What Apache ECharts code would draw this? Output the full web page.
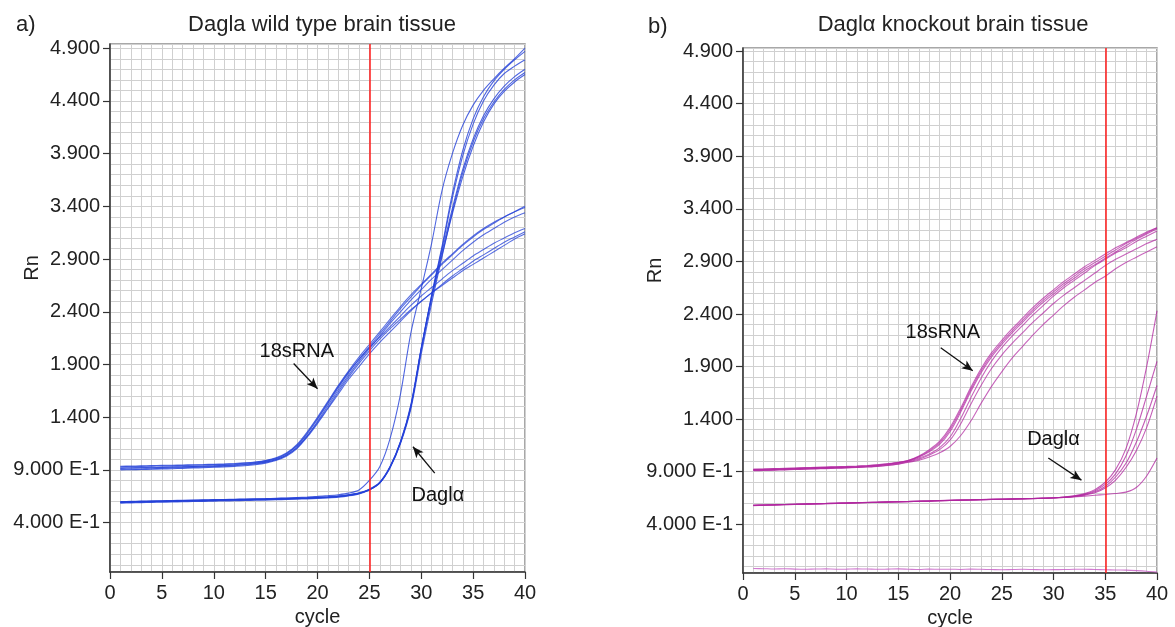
<!DOCTYPE html>
<html>
<head>
  <meta charset="UTF-8">
  <title>Dagla qPCR amplification plots</title>
  <script src="https://cdn.jsdelivr.net/npm/echarts@6/dist/echarts.min.js"></script>
  <style>
    html, body { margin: 0; padding: 0; background: #fff; }
    #main { width: 1175px; height: 627px; }
  </style>
</head>
<body>
<div id="main"></div>
<script>
// ---- data ----
var cycles = [1,2,3,4,5,6,7,8,9,10,11,12,13,14,15,16,17,18,19,20,21,22,23,24,25,26,27,28,29,30,31,32,33,34,35,36,37,38,39,40];

var xTickValues = [0, 5, 10, 15, 20, 25, 30, 35, 40];
var yTickValues = [0.4, 0.9, 1.4, 1.9, 2.4, 2.9, 3.4, 3.9, 4.4, 4.9];
var yTickLabels = ['4.000 E-1', '9.000 E-1', '1.400', '1.900', '2.400', '2.900', '3.400', '3.900', '4.400', '4.900'];

// a) wild type, 18sRNA replicates
var wt18sA = [0.935,0.937,0.939,0.941,0.943,0.945,0.947,0.949,0.951,0.954,0.957,0.961,0.967,0.976,0.990,1.015,1.060,1.140,1.260,1.400,1.550,1.700,1.840,1.970,2.090,2.210,2.330,2.450,2.560,2.660,2.760,2.860,2.950,3.040,3.120,3.190,3.250,3.300,3.350,3.390];
var wt18sB = [0.920,0.921,0.923,0.925,0.927,0.929,0.931,0.934,0.937,0.940,0.944,0.949,0.956,0.966,0.981,1.006,1.050,1.125,1.240,1.380,1.530,1.680,1.820,1.950,2.070,2.190,2.310,2.430,2.540,2.650,2.750,2.850,2.940,3.030,3.110,3.180,3.240,3.300,3.350,3.400];
var wt18sC = [0.905,0.907,0.909,0.912,0.915,0.918,0.921,0.924,0.927,0.931,0.935,0.940,0.947,0.957,0.972,0.997,1.040,1.110,1.220,1.360,1.510,1.660,1.800,1.930,2.050,2.170,2.290,2.400,2.510,2.610,2.710,2.800,2.890,2.980,3.060,3.130,3.190,3.250,3.300,3.340];
var wt18sD = [0.930,0.932,0.934,0.936,0.938,0.940,0.942,0.944,0.947,0.950,0.953,0.957,0.963,0.972,0.986,1.010,1.055,1.130,1.250,1.390,1.540,1.690,1.830,1.950,2.060,2.160,2.260,2.360,2.460,2.550,2.630,2.710,2.790,2.860,2.930,2.990,3.050,3.100,3.150,3.190];
var wt18sE = [0.900,0.902,0.904,0.906,0.909,0.912,0.915,0.918,0.921,0.925,0.929,0.934,0.940,0.950,0.965,0.990,1.030,1.100,1.210,1.340,1.480,1.620,1.760,1.880,2.000,2.110,2.210,2.310,2.410,2.500,2.580,2.660,2.740,2.810,2.880,2.940,3.000,3.060,3.110,3.160];
var wt18sF = [0.915,0.917,0.919,0.921,0.923,0.925,0.928,0.931,0.934,0.937,0.941,0.946,0.952,0.961,0.975,0.998,1.040,1.110,1.220,1.350,1.490,1.640,1.780,1.910,2.030,2.140,2.240,2.330,2.420,2.500,2.580,2.650,2.720,2.790,2.850,2.910,2.970,3.030,3.090,3.140];

// a) wild type, Dagla replicates
var wtDagA = [0.600,0.602,0.604,0.606,0.608,0.610,0.612,0.614,0.616,0.618,0.620,0.622,0.624,0.626,0.628,0.631,0.634,0.638,0.643,0.649,0.656,0.665,0.680,0.710,0.800,0.930,1.200,1.620,2.200,2.620,3.050,3.550,3.900,4.170,4.360,4.500,4.610,4.710,4.800,4.900];
var wtDagB = [0.595,0.597,0.600,0.602,0.604,0.606,0.608,0.610,0.612,0.614,0.616,0.618,0.620,0.622,0.624,0.626,0.628,0.631,0.634,0.638,0.643,0.650,0.662,0.680,0.712,0.775,0.925,1.160,1.500,2.050,2.560,3.020,3.520,3.930,4.230,4.440,4.590,4.700,4.790,4.870];
var wtDagC = [0.590,0.592,0.595,0.597,0.599,0.601,0.603,0.605,0.607,0.609,0.611,0.613,0.615,0.617,0.619,0.621,0.624,0.627,0.630,0.634,0.639,0.646,0.658,0.677,0.715,0.780,0.930,1.160,1.500,2.050,2.550,3.000,3.480,3.880,4.180,4.400,4.550,4.660,4.730,4.790];
var wtDagD = [0.585,0.588,0.590,0.592,0.594,0.596,0.598,0.600,0.602,0.604,0.606,0.608,0.610,0.612,0.614,0.617,0.620,0.623,0.626,0.630,0.635,0.642,0.654,0.673,0.710,0.775,0.920,1.150,1.480,2.000,2.480,2.920,3.350,3.720,4.010,4.230,4.390,4.510,4.600,4.670];
var wtDagE = [0.598,0.600,0.602,0.604,0.606,0.608,0.610,0.612,0.614,0.616,0.618,0.620,0.622,0.624,0.626,0.629,0.632,0.635,0.638,0.642,0.647,0.654,0.666,0.684,0.718,0.785,0.935,1.170,1.520,2.060,2.540,2.970,3.380,3.750,4.040,4.260,4.420,4.540,4.630,4.700];
var wtDagF = [0.592,0.594,0.597,0.599,0.601,0.603,0.605,0.607,0.609,0.611,0.613,0.615,0.617,0.619,0.621,0.623,0.626,0.629,0.632,0.636,0.641,0.648,0.660,0.678,0.712,0.780,0.928,1.165,1.510,2.040,2.520,2.940,3.330,3.680,3.970,4.200,4.370,4.490,4.580,4.650];

// b) knockout, 18sRNA replicates
var ko18sA = [0.920,0.922,0.925,0.928,0.931,0.934,0.937,0.940,0.943,0.946,0.950,0.955,0.962,0.972,0.985,1.005,1.040,1.090,1.160,1.280,1.460,1.660,1.840,1.990,2.110,2.220,2.320,2.420,2.510,2.590,2.670,2.740,2.810,2.870,2.930,2.990,3.050,3.110,3.160,3.210];
var ko18sB = [0.925,0.927,0.930,0.933,0.936,0.939,0.942,0.945,0.948,0.951,0.955,0.960,0.967,0.977,0.990,1.010,1.050,1.110,1.190,1.320,1.500,1.700,1.880,2.030,2.150,2.260,2.360,2.460,2.550,2.630,2.710,2.780,2.850,2.910,2.970,3.030,3.080,3.130,3.180,3.220];
var ko18sC = [0.915,0.917,0.920,0.923,0.926,0.929,0.932,0.935,0.938,0.941,0.945,0.950,0.957,0.967,0.980,1.000,1.030,1.070,1.130,1.230,1.400,1.600,1.790,1.950,2.080,2.190,2.290,2.390,2.480,2.570,2.650,2.720,2.790,2.860,2.920,2.980,3.030,3.090,3.140,3.190];
var ko18sD = [0.912,0.914,0.917,0.920,0.923,0.926,0.929,0.932,0.935,0.938,0.942,0.947,0.953,0.962,0.975,0.995,1.020,1.060,1.110,1.200,1.350,1.540,1.720,1.880,2.010,2.120,2.220,2.320,2.410,2.500,2.580,2.650,2.720,2.790,2.860,2.920,2.970,3.020,3.070,3.110];
var ko18sE = [0.910,0.912,0.915,0.918,0.921,0.924,0.927,0.930,0.933,0.936,0.940,0.945,0.951,0.960,0.972,0.990,1.010,1.040,1.080,1.140,1.240,1.380,1.550,1.710,1.850,1.980,2.090,2.200,2.300,2.390,2.480,2.560,2.630,2.700,2.760,2.830,2.890,2.940,2.990,3.040];
var ko18sF = [0.922,0.924,0.927,0.930,0.933,0.936,0.939,0.942,0.945,0.948,0.952,0.957,0.964,0.974,0.987,1.008,1.045,1.100,1.175,1.300,1.480,1.680,1.860,2.010,2.130,2.240,2.340,2.440,2.530,2.610,2.690,2.760,2.830,2.890,2.950,3.010,3.070,3.120,3.170,3.220];

// b) knockout, Dagla replicates
var koDagA = [0.580,0.583,0.585,0.588,0.590,0.593,0.595,0.598,0.600,0.603,0.605,0.608,0.610,0.612,0.615,0.617,0.620,0.622,0.625,0.628,0.630,0.632,0.635,0.637,0.639,0.641,0.643,0.645,0.648,0.652,0.660,0.672,0.692,0.730,0.800,0.920,1.120,1.450,1.900,2.430];
var koDagB = [0.582,0.584,0.587,0.589,0.592,0.594,0.597,0.599,0.602,0.604,0.607,0.609,0.611,0.614,0.616,0.618,0.621,0.623,0.626,0.629,0.631,0.633,0.636,0.638,0.640,0.642,0.644,0.646,0.649,0.652,0.658,0.668,0.686,0.720,0.780,0.880,1.050,1.300,1.620,1.950];
var koDagC = [0.578,0.581,0.583,0.586,0.588,0.591,0.593,0.596,0.598,0.601,0.603,0.606,0.608,0.611,0.613,0.616,0.618,0.621,0.624,0.627,0.629,0.631,0.634,0.636,0.638,0.640,0.642,0.644,0.647,0.651,0.657,0.666,0.682,0.710,0.760,0.850,0.980,1.180,1.430,1.720];
var koDagD = [0.581,0.583,0.586,0.588,0.591,0.593,0.596,0.598,0.601,0.603,0.606,0.608,0.610,0.613,0.615,0.617,0.620,0.622,0.625,0.628,0.630,0.632,0.635,0.637,0.639,0.641,0.643,0.645,0.648,0.651,0.656,0.664,0.678,0.700,0.745,0.820,0.940,1.100,1.320,1.620];
var koDagE = [0.579,0.582,0.584,0.587,0.589,0.592,0.594,0.597,0.599,0.602,0.604,0.607,0.609,0.611,0.614,0.616,0.619,0.621,0.624,0.627,0.629,0.631,0.634,0.636,0.638,0.640,0.642,0.644,0.647,0.650,0.655,0.660,0.668,0.676,0.684,0.693,0.706,0.750,0.860,1.030];
// b) no-template baseline trace near zero
var koNtc = [-0.020,-0.022,-0.025,-0.022,-0.026,-0.028,-0.025,-0.024,-0.027,-0.026,-0.024,-0.025,-0.028,-0.026,-0.024,-0.027,-0.030,-0.026,-0.028,-0.027,-0.029,-0.026,-0.028,-0.030,-0.032,-0.030,-0.028,-0.030,-0.032,-0.031,-0.030,-0.028,-0.027,-0.030,-0.032,-0.034,-0.036,-0.040,-0.046,-0.055];

// threshold lines and annotation anchors (data coordinates)
var thresholdA = 25, thresholdB = 35;
var notesA = [
  { text: '18sRNA', at: [18.0, 2.02], from: [17.7, 1.91], to: [20.0, 1.67] },
  { text: 'Dagl\u03b1', at: [31.6, 0.66], from: [31.3, 0.87], to: [29.2, 1.12] }
];
var notesB = [
  { text: '18sRNA', at: [19.3, 2.22], from: [19.1, 2.08], to: [22.2, 1.86] },
  { text: 'Dagl\u03b1', at: [30.0, 1.21], from: [29.5, 1.03], to: [32.7, 0.82] }
];

var BLUE = '#2340d8';
var MAGENTA = '#b0259f';
var FONT = 'Liberation Sans, Arial, sans-serif';

function pairs(vals) {
  return cycles.map(function (c, i) { return [c, vals[i]]; });
}

function yLabel(v) {
  var best = 0;
  for (var i = 0; i < yTickValues.length; i++) {
    if (Math.abs(yTickValues[i] - v) < Math.abs(yTickValues[best] - v)) best = i;
  }
  return yTickLabels[best];
}

function curve(vals, idx, color, op) {
  return {
    type: 'line', xAxisIndex: idx, yAxisIndex: idx,
    data: pairs(vals), smooth: 0.3, showSymbol: false, silent: true,
    lineStyle: { color: color, width: 1.1, opacity: op },
    z: 3
  };
}

// red threshold line
function threshold(idx, x) {
  return {
    type: 'line', xAxisIndex: idx, yAxisIndex: idx, data: [], silent: true, z: 4,
    markLine: {
      silent: true, animation: false, symbol: ['none', 'none'],
      label: { show: false },
      lineStyle: { color: '#ff1a1a', width: 1.5, type: 'solid' },
      data: [{ xAxis: x }]
    }
  };
}

// arrows and text labels
function notesSeries(idx, notes) {
  return {
    type: 'line', xAxisIndex: idx, yAxisIndex: idx, data: [], silent: true, z: 5,
    markLine: {
      silent: true, animation: false,
      symbol: ['none', 'arrow'], symbolSize: [7, 11],
      label: { show: false },
      lineStyle: { color: '#111', width: 1.3, type: 'solid' },
      data: notes.map(function (n) { return [{ coord: n.from }, { coord: n.to }]; })
    },
    markPoint: {
      silent: true, animation: false,
      symbol: 'circle', symbolSize: 1,
      itemStyle: { color: 'rgba(0,0,0,0)' },
      label: { show: true, position: 'inside', formatter: '{b}', color: '#111', fontSize: 20, fontFamily: FONT },
      data: notes.map(function (n) { return { name: n.text, coord: n.at }; })
    }
  };
}

// labelled axes (ticks + labels only)
function xAxisCfg(idx) {
  return {
    type: 'value', gridIndex: idx, min: 0, max: 40, position: 'bottom',
    name: 'cycle', nameLocation: 'middle', nameGap: 35, nameMoveOverlap: false,
    nameTextStyle: { fontSize: 20, color: '#222', fontFamily: FONT },
    axisLine: { show: true, onZero: false, lineStyle: { color: '#333', width: 1.5 } },
    axisTick: { show: true, customValues: xTickValues, length: 7, lineStyle: { color: '#333', width: 1.2 } },
    axisLabel: { customValues: xTickValues, fontSize: 20, color: '#222', fontFamily: FONT, margin: 11 },
    splitLine: { show: false }
  };
}

function yAxisCfg(idx, lo, hi, gap) {
  return {
    type: 'value', gridIndex: idx, min: lo, max: hi, position: 'left',
    name: 'Rn', nameLocation: 'middle', nameGap: gap, nameRotate: 90, nameMoveOverlap: false,
    nameTextStyle: { fontSize: 20, color: '#222', fontFamily: FONT, padding: [0, 0, 0, 80] },
    axisLine: { show: true, onZero: false, lineStyle: { color: '#333', width: 1.5 } },
    axisTick: { show: true, customValues: yTickValues, length: 7, lineStyle: { color: '#333', width: 1.2 } },
    axisLabel: { customValues: yTickValues, formatter: yLabel, fontSize: 20, color: '#222', fontFamily: FONT, margin: 10 },
    splitLine: { show: false }
  };
}

// hidden axes that only draw the fine grid (1 cycle x 0.1 Rn)
function xGridCfg(idx) {
  return {
    type: 'value', gridIndex: idx, min: 0, max: 40, interval: 1, position: 'top',
    axisLine: { show: false }, axisTick: { show: false }, axisLabel: { show: false },
    splitLine: { show: true, lineStyle: { color: '#d0d0d0', width: 1 } }
  };
}

function yGridCfg(idx, lo, hi) {
  return {
    type: 'value', gridIndex: idx, min: lo, max: hi, position: 'right',
    splitNumber: 50, minInterval: 0.1, maxInterval: 0.1,
    axisLine: { show: false }, axisTick: { show: false }, axisLabel: { show: false },
    splitLine: { show: true, lineStyle: { color: '#d0d0d0', width: 1 } }
  };
}

var chart = echarts.init(document.getElementById('main'), null, { renderer: 'canvas' });

var series = [];
[wt18sA, wt18sB, wt18sC, wt18sD, wt18sE, wt18sF].forEach(function (v) { series.push(curve(v, 0, BLUE, 0.75)); });
[wtDagA, wtDagB, wtDagC, wtDagD, wtDagE, wtDagF].forEach(function (v) { series.push(curve(v, 0, BLUE, 0.8)); });
[ko18sA, ko18sB, ko18sC, ko18sD, ko18sE, ko18sF].forEach(function (v) { series.push(curve(v, 1, MAGENTA, 0.7)); });
[koDagA, koDagB, koDagC, koDagD, koDagE].forEach(function (v) { series.push(curve(v, 1, MAGENTA, 0.75)); });
series.push(curve(koNtc, 1, '#c65ac4', 0.8));
series.push(threshold(0, thresholdA));
series.push(threshold(1, thresholdB));
series.push(notesSeries(0, notesA));
series.push(notesSeries(1, notesB));

var titleStyle = { fontSize: 22, fontWeight: 'normal', color: '#222', fontFamily: FONT };

var option = {
  animation: false,
  backgroundColor: '#fff',
  textStyle: { fontFamily: FONT },
  title: [
    { text: 'a)', left: 11, top: 9, textStyle: titleStyle },
    { text: 'Dagla wild type brain tissue', left: 317, top: 9, textAlign: 'center', textStyle: titleStyle },
    { text: 'b)', left: 643, top: 11, textStyle: titleStyle },
    { text: 'Dagl\u03b1 knockout brain tissue', left: 948, top: 9, textAlign: 'center', textStyle: titleStyle }
  ],
  grid: [
    { left: 110, right: 650, top: 44, bottom: 55, show: true, backgroundColor: '#fff', borderColor: '#8c8c8c', borderWidth: 1.5, outerBoundsMode: 'none' },
    { left: 743, right: 18, top: 48, bottom: 54, show: true, backgroundColor: '#fff', borderColor: '#8c8c8c', borderWidth: 1.5, outerBoundsMode: 'none' }
  ],
  xAxis: [xAxisCfg(0), xAxisCfg(1), xGridCfg(0), xGridCfg(1)],
  yAxis: [yAxisCfg(0, -0.068, 4.94, 68), yAxisCfg(1, -0.063, 4.93, 78), yGridCfg(0, -0.068, 4.94), yGridCfg(1, -0.063, 4.93)],
  series: series
};

chart.setOption(option);
</script>
</body>
</html>
